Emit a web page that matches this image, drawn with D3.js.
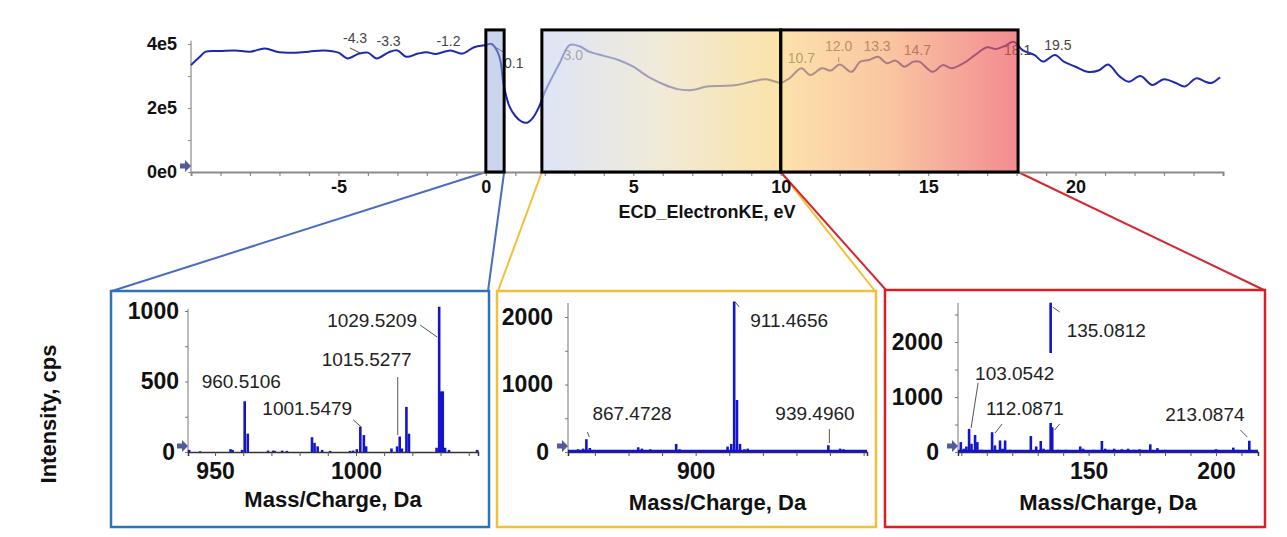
<!DOCTYPE html>
<html><head><meta charset="utf-8">
<script src="https://cdn.jsdelivr.net/npm/d3@7"></script>
<style>body{margin:0;background:#fff}svg{display:block}</style>
</head><body>
<svg id="c" width="1287" height="537"></svg>
<script>
// ---------- DATA ----------
const ecdEnergy = [-10,-9.7,-9.5,-9,-8.5,-8,-7.5,-7,-6.5,-6,-5.5,-5,-4.7,-4.3,-4,-3.7,-3.3,-3,-2.7,-2.3,-2,-1.7,-1.2,-0.8,-0.4,0,0.2,0.4,0.5,0.6,0.8,1.0,1.2,1.4,1.6,1.8,2.0,2.5,2.85,3.2,3.5,4,4.5,5,5.5,6,6.5,7,7.5,8,8.5,9,9.5,10,10.3,10.7,11,11.4,11.7,12,12.4,12.7,13,13.3,13.6,13.9,14.2,14.5,14.7,15.15,15.5,15.8,16.2,16.6,17,17.3,17.6,17.9,18.2,18.6,18.9,19.3,19.6,20,20.4,20.8,21.1,21.5,21.8,22.2,22.6,23,23.4,23.7,24.1,24.4,24.6,24.9];
const ecdIntensity = [3.34,3.6,3.76,3.78,3.80,3.76,3.86,3.74,3.73,3.76,3.80,3.73,3.55,3.70,3.73,3.55,3.74,3.80,3.60,3.70,3.74,3.69,3.80,3.70,3.90,3.97,4.0,3.75,3.45,2.75,2.05,1.75,1.58,1.54,1.7,2.03,2.5,3.4,3.97,3.92,3.76,3.63,3.5,3.29,2.98,2.75,2.59,2.56,2.67,2.69,2.72,2.82,2.9,2.79,2.93,3.24,3.03,3.24,3.17,3.36,3.13,3.45,3.5,3.6,3.4,3.48,3.29,3.45,3.45,3.13,3.34,3.24,3.4,3.66,3.9,3.84,3.94,4.07,3.81,3.66,3.45,3.66,3.45,3.29,3.13,3.18,3.36,2.98,2.82,3.0,2.72,2.9,2.78,2.67,2.93,2.82,2.78,2.96].map(v => v * 1e5);
const ecdPeakLabels = [-4.3,-3.3,-1.2,0.1,3.0,10.7,12.0,13.3,14.7,18.1,19.5];
const ecdPeakLabelY = [4.03,3.94,3.94,3.25,3.5,3.41,3.78,3.78,3.66,3.66,3.81].map(v => v * 1e5);
const energyWindows = [[0,0.62],[1.9,10],[10,18.05]];
const ecdXTicks = [-5,0,5,10,15,20];
const ecdYTicks = [0,2e5,4e5];
const ecdYTickLabels = ["0e0","2e5","4e5"];

const mz1  = [940.8,944.7,955.5,956.2,959.6,960.5106,961.6,968.8,970.6,971.2,973.8,975.5,984.4,985.3,986.4,988,990.8,997.9,999,1000.3,1001.5479,1002.8,1003.6,1012.6,1014.6,1015.5277,1016.3,1017.9,1018.8,1028.6,1029.5209,1030.2,1030.8,1031.6,1033,1043];
const int1 = [15,5,20,15,15,360,130,10,10,8,10,8,105,65,40,15,8,8,10,20,180,120,40,25,40,110,25,320,130,30,1030,430,430,30,15,15];
const labels1 = ["1029.5209","1015.5277","960.5106","1001.5479"];

const mz2  = [862.5,864,865,866.5,867.4728,868.5,870,871.5,873,874.5,876,878,880,881.5,882.9,884,885.5,886.5,888,890,892,894.2,895.2,897,898,900,901.5,903,904.5,905.5,907,909.5,910.6,911.4656,912.3,913.2,914.5,915.5,917,918,920,921,923,926,928,930,932,934,936,937.5,939.4960,940.5,942,943,944,945.5,947,949];
const int2 = [20,25,40,50,190,60,20,15,15,20,20,15,15,25,70,50,30,40,25,15,20,120,40,20,15,10,20,30,25,25,20,80,120,2230,770,120,40,50,20,30,20,20,15,25,15,20,15,15,20,20,100,30,20,50,40,15,15,15];
const labels2 = ["911.4656","867.4728","939.4960"];

const mz3  = [99.8,101,102,103.0542,104,105.4,106.3,108,110,112.0871,113.2,115.2,116.2,117.2,119,121,124,127.3,129.4,131.2,132.3,134,135.0812,135.7,138,141,143,146.7,147.8,150,152,155.2,156.5,158,160,163,165.5,168,170,172,174.2,177,180,185,190,195,200,203,206.8,208.5,210,213.0874];
const int3 = [180,60,100,420,150,310,180,40,30,360,120,210,60,210,40,30,20,290,100,200,60,40,2715,450,40,40,30,100,60,30,40,200,60,40,60,50,60,40,50,30,140,70,40,20,20,20,50,20,80,40,30,205];
const labels3 = ["135.0812","103.0542","112.0871","213.0874"];

// ---------- LAYOUT ----------
const FONT = "'Liberation Sans', Arial, Helvetica, sans-serif";
const svg = d3.select("#c");
const LINE_BLUE = "#1e2aae";
const PEAK_BLUE = "#1414cc";

const x = d3.scaleLinear().domain([-10, 25]).range([191, 1223]);
const y = d3.scaleLinear().domain([0, 4e5]).range([172, 44]);

const defs = svg.append("defs");
function grad(id, stops) {
  const g = defs.append("linearGradient").attr("id", id).attr("x1", "0%").attr("x2", "100%").attr("y1", "0%").attr("y2", "0%");
  stops.forEach(s => g.append("stop").attr("offset", s[0]).attr("stop-color", s[1]));
}
grad("g1", [["0%", "#98abdc"], ["100%", "#98abdc"]]);
grad("g2", [["0%", "#cbd7f1"], ["50%", "#e9dfc2"], ["100%", "#f9d479"]]);
grad("g3", [["0%", "#fcd27e"], ["45%", "#f6a86f"], ["100%", "#eb4d55"]]);

const frames = [
  {x0: 111, y0: 291, x1: 489, y1: 527, color: "#2e74b5", conn: "#4a6cc0"},
  {x0: 497, y0: 291, x1: 876, y1: 527, color: "#f2c037", conn: "#f2c037"},
  {x0: 885, y0: 290, x1: 1265, y1: 527, color: "#d91f26", conn: "#d62830"}
];
energyWindows.forEach((w, i) => {
  const f = frames[i];
  svg.append("line").attr("x1", x(w[0])).attr("y1", y(0)).attr("x2", f.x0 + 1).attr("y2", f.y0)
    .attr("stroke", f.conn).attr("stroke-width", 2);
  svg.append("line").attr("x1", x(w[1])).attr("y1", y(0)).attr("x2", f.x1 - 1).attr("y2", f.y0)
    .attr("stroke", f.conn).attr("stroke-width", 2);
});

const xAxisG = svg.append("g").attr("transform", `translate(0,${y(0)})`)
  .call(d3.axisBottom(x).tickValues(d3.range(-9, 25, 1)).tickSize(4).tickPadding(4)
    .tickFormat(d => ecdXTicks.includes(d) ? d : ""));
xAxisG.select(".domain").attr("stroke", "#8a8a8a").attr("stroke-width", 2);
xAxisG.selectAll(".tick line").attr("stroke", "#8a8a8a").attr("stroke-width", 1.2);
xAxisG.selectAll(".tick text").attr("font-family", FONT).attr("font-size", 18).attr("font-weight", "bold").attr("fill", "#111");

const yAxisG = svg.append("g").attr("transform", `translate(${x(-10)},0)`)
  .call(d3.axisLeft(y).tickValues([0, 1e5, 2e5, 3e5, 4e5]).tickSize(3).tickPadding(11)
    .tickFormat(d => { const k = ecdYTicks.indexOf(d); return k >= 0 ? ecdYTickLabels[k] : ""; }));
yAxisG.select(".domain").attr("stroke", "#8a8a8a").attr("stroke-width", 1.2).attr("d", `M0,${y(4.1e5)}V${y(0)}`);
yAxisG.selectAll(".tick line").attr("stroke", "#8a8a8a");
yAxisG.selectAll(".tick text").attr("font-family", FONT).attr("font-size", 18).attr("font-weight", "bold").attr("fill", "#111");

function zeroArrow(ax, ay) {
  svg.append("path")
    .attr("d", `M${ax-10},${ay-2.5}h5v-3.5l6,6l-6,6v-3.5h-5z`)
    .attr("fill", "#555a9c");
}
zeroArrow(x(-10) - 1, y(0) - 6);

svg.append("text").attr("x", (x.range()[0] + x.range()[1]) / 2).attr("y", 218)
  .attr("text-anchor", "middle").attr("font-family", FONT).attr("font-size", 18).attr("font-weight", "bold")
  .attr("fill", "#111").text("ECD_ElectronKE, eV");

svg.append("path").datum(d3.zip(ecdEnergy, ecdIntensity))
  .attr("d", d3.line().x(d => x(d[0])).y(d => y(d[1])).curve(d3.curveCatmullRom))
  .attr("fill", "none").attr("stroke", LINE_BLUE).attr("stroke-width", 2);

const topLabelDx = [-4, 0, -2, 25, -1, 0, -1, -1, -2, -2, -3];
ecdPeakLabels.forEach((v, i) => {
  svg.append("text").attr("x", x(v) + topLabelDx[i]).attr("y", y(ecdPeakLabelY[i]))
    .attr("text-anchor", "middle").attr("font-family", FONT).attr("font-size", 14)
    .attr("fill", "#444").text(v.toFixed(1));
});
[[-4.3, -9, 48, 1, 53], [0.1, 3, 45, 16, 53], [12.0, -1, 57, -1, 62]].forEach(l => {
  svg.append("line").attr("x1", x(l[0]) + l[1]).attr("y1", l[2]).attr("x2", x(l[0]) + l[3]).attr("y2", l[4])
    .attr("stroke", "#444").attr("stroke-width", 1);
});

const boxTop = y(4.44e5);
const boxOpacity = [0.5, 0.65, 0.65];
energyWindows.forEach((w, i) => {
  svg.append("rect").attr("x", x(w[0])).attr("y", boxTop).attr("width", x(w[1]) - x(w[0])).attr("height", y(0) - boxTop)
    .attr("fill", `url(#g${i + 1})`).attr("fill-opacity", boxOpacity[i]);
});
energyWindows.forEach((w, i) => {
  svg.append("rect").attr("x", x(w[0])).attr("y", boxTop).attr("width", x(w[1]) - x(w[0])).attr("height", y(0) - boxTop)
    .attr("fill", "none").attr("stroke", "#000").attr("stroke-width", 3);
});

svg.append("text").attr("transform", "translate(48,414) rotate(-90)")
  .attr("text-anchor", "middle").attr("dominant-baseline", "central")
  .attr("font-family", FONT).attr("font-size", 22).attr("font-weight", "bold").attr("fill", "#111")
  .text("Intensity, cps");

// ---------- SPECTRA ----------
const panels = [
  {mz: mz1, inten: int1, labels: labels1, frame: frames[0], xDomain: [940.4, 1043.3], xRange: [188, 478],
   yDomain: [0, 1000], yRange: [452, 311], yTop: 1015, yTicks: [0, 500, 1000], yMinor: 250, xTicks: [950, 1000], xMinor: 10,
   yPad: 6, titleY: 507, baseline: false,
   labelOff: [[-112, -125], [-78, -86], [-43, -64], [-98, -37]],
   leaders: [[1029.5209, -19, -127, -2, -115], [1015.5277, -2, -75, -2, -17], [1001.5479, -7, -32, 1, -25]]},
  {mz: mz2, inten: int2, labels: labels2, frame: frames[1], xDomain: [862, 951], xRange: [568, 867],
   yDomain: [0, 2000], yRange: [452, 317], yTop: 2207, yTicks: [0, 1000, 2000], yMinor: 500, xTicks: [900], xMinor: 10,
   yPad: 12, titleY: 510, baseline: true,
   labelOff: [[16, -125], [6, -32], [-53, -32]],
   leaders: [[939.4960, 1, -23, 1, -9], [867.4728, 1, -20, 3, -15], [911.4656, 1, -150, 5, -145]]},
  {mz: mz3, inten: int3, labels: labels3, frame: frames[2], xDomain: [98.7, 216.5], xRange: [958, 1258],
   yDomain: [0, 2000], yRange: [452, 342], yTop: 2710, yTicks: [0, 1000, 2000], yMinor: 500, xTicks: [150, 200], xMinor: 10,
   yPad: 12, titleY: 510, baseline: true,
   labelOff: [[16, -115], [6, -72], [-6, -37], [-84, -31]],
   leaders: [[103.0542, 9, -69, 2, -24], [112.0871, 10, -28, 3, -19], [135.0812, 9, -140, 2, -145], [135.0812, 9, -28, 4, -22], [213.0874, -9, -22, -2, -15]]}
];

panels.forEach(p => {
  const f = p.frame;
  const g = svg.append("g");
  g.append("rect").attr("x", f.x0).attr("y", f.y0).attr("width", f.x1 - f.x0).attr("height", f.y1 - f.y0)
    .attr("fill", "#fff").attr("stroke", f.color).attr("stroke-width", 2.5);
  const xs = d3.scaleLinear().domain(p.xDomain).range(p.xRange);
  const ys = d3.scaleLinear().domain(p.yDomain).range(p.yRange);
  const y0 = ys(0);

  const minorX = d3.range(Math.ceil(p.xDomain[0] / p.xMinor) * p.xMinor, p.xDomain[1], p.xMinor);
  const xa = g.append("g").attr("transform", `translate(0,${y0})`)
    .call(d3.axisBottom(xs).tickValues(minorX).tickSize(4).tickPadding(7)
      .tickFormat(d => p.xTicks.includes(d) ? d : ""));
  xa.select(".domain").attr("stroke", "#333").attr("stroke-width", 1.5);
  xa.selectAll(".tick line").attr("stroke", "#555");
  xa.selectAll(".tick text").attr("font-family", FONT).attr("font-size", 23).attr("font-weight", "bold").attr("fill", "#111");

  const minorY = d3.range(0, p.yTop, p.yMinor);
  const ya = g.append("g").attr("transform", `translate(${p.xRange[0]},0)`)
    .call(d3.axisLeft(ys).tickValues(minorY).tickSize(3).tickPadding(p.yPad)
      .tickFormat(d => p.yTicks.includes(d) ? d : ""));
  ya.select(".domain").attr("stroke", "#777").attr("stroke-width", 1).attr("d", `M0,${ys(p.yTop)}V${y0}`);
  ya.selectAll(".tick line").attr("stroke", "#777");
  ya.selectAll(".tick text").attr("font-family", FONT).attr("font-size", 23).attr("font-weight", "bold").attr("fill", "#111")
    .attr("dx", d => d === 0 ? -4 : 0);
  zeroArrow(p.xRange[0] - 1, y0 - 6);

  if (p.baseline) {
    g.append("line").attr("x1", xs(p.xDomain[0])).attr("x2", xs(p.xDomain[1])).attr("y1", y0 - 1).attr("y2", y0 - 1)
      .attr("stroke", PEAK_BLUE).attr("stroke-width", 2.5);
  }
  g.selectAll("line.pk").data(d3.zip(p.mz, p.inten)).join("line").attr("class", "pk")
    .attr("x1", d => xs(d[0])).attr("x2", d => xs(d[0]))
    .attr("y1", y0).attr("y2", d => ys(d[1]))
    .attr("stroke", PEAK_BLUE).attr("stroke-width", 2.6);

  p.labels.forEach((lab, i) => {
    const px = xs(+lab) + p.labelOff[i][0], py = y0 + p.labelOff[i][1];
    const t = g.append("text").attr("x", px).attr("y", py).attr("font-family", FONT).attr("font-size", 19)
      .attr("fill", "#222").text(lab);
    const bb = t.node().getBBox();
    g.insert("rect", () => t.node()).attr("x", bb.x - 2).attr("y", py - 27).attr("width", bb.width + 4).attr("height", 35)
      .attr("fill", "#fff");
  });
  p.leaders.forEach(l => {
    g.append("line").attr("x1", xs(l[0]) + l[1]).attr("y1", y0 + l[2]).attr("x2", xs(l[0]) + l[3]).attr("y2", y0 + l[4])
      .attr("stroke", "#555").attr("stroke-width", 1);
  });

  g.append("text").attr("x", (p.xRange[0] + p.xRange[1]) / 2).attr("y", p.titleY)
    .attr("text-anchor", "middle").attr("font-family", FONT).attr("font-size", 22).attr("font-weight", "bold")
    .attr("fill", "#111").text("Mass/Charge, Da");
});
</script>
</body></html>
